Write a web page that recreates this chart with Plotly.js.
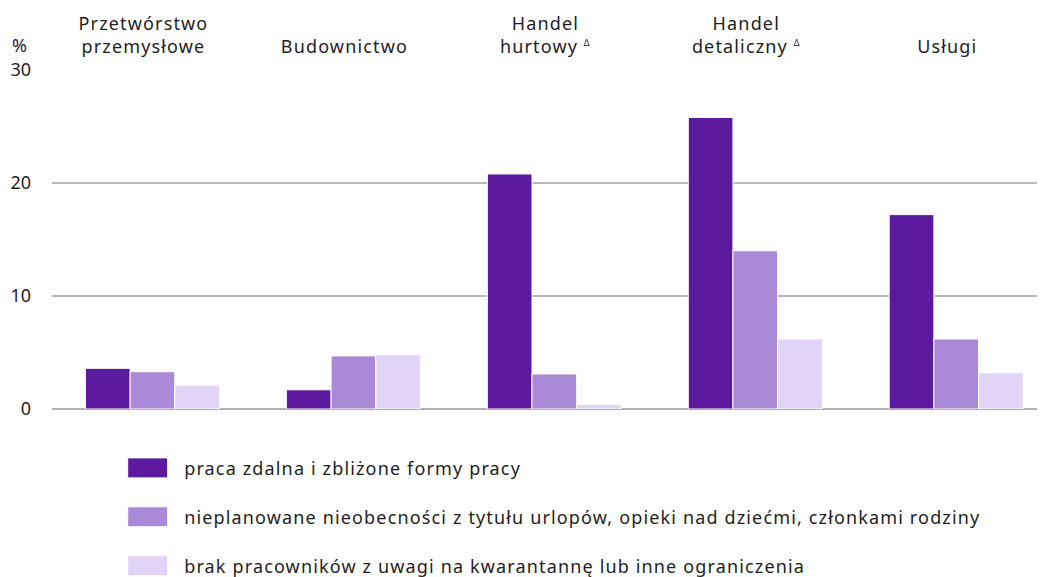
<!DOCTYPE html>
<html>
<head>
<meta charset="utf-8">
<script src="https://cdn.plot.ly/plotly-3.0.1.min.js"></script>
<style>
  html, body { margin: 0; padding: 0; background: #ffffff; }
  #chart { width: 1041px; height: 577px; }
  .xtick text, .legendtext { letter-spacing: 1.15px; }
</style>
</head>
<body>
<div id="chart"></div>
<script>
const categories = [
  'Przetwórstwo<br>przemysłowe',
  'Budownictwo',
  'Handel<br>hurtowy <sup><span style="font-size:9px">Δ</span></sup>',
  'Handel<br>detaliczny <sup><span style="font-size:9px">Δ</span></sup>',
  'Usługi'
];
const seriesNames = [
  'praca zdalna i zbliżone formy pracy',
  'nieplanowane nieobecności z tytułu urlopów, opieki nad dziećmi, członkami rodziny',
  'brak pracowników z uwagi na kwarantannę lub inne ograniczenia'
];
const remoteWork = [3.6, 1.7, 20.8, 25.8, 17.2];
const absences   = [3.3, 4.7, 3.1, 14.0, 6.2];
const quarantine = [2.1, 4.8, 0.4, 6.2, 3.2];
const yTicks = [0, 10, 20, 30];
const colors = ['#5c1a9f', '#aa8ad8', '#e2d4f6'];

const FONT = 'Noto Sans, Open Sans, sans-serif';
const TEXT = '#1e1e1e';

const series = [remoteWork, absences, quarantine];
const traces = series.map((vals, i) => ({
  type: 'bar',
  name: seriesNames[i],
  x: categories,
  y: vals,
  marker: { color: colors[i], line: { color: '#ffffff', width: 1 } },
  legendgroup: 'g' + i,
  hoverinfo: 'x+y'
}));

const layout = {
  width: 1041,
  height: 577,
  margin: { l: 52, r: 4, t: 70, b: 168, pad: 0, autoexpand: false },
  paper_bgcolor: '#ffffff',
  plot_bgcolor: '#ffffff',
  font: { family: FONT, size: 18, color: TEXT },
  barmode: 'group',
  bargap: 0.333,
  bargroupgap: 0,
  showlegend: true,
  legend: {
    orientation: 'v',
    x: 0.0682, xanchor: 'left',
    y: -0.12, yanchor: 'top',
    font: { family: FONT, size: 18, color: TEXT },
    traceorder: 'grouped',
    tracegroupgap: 22.5,
    itemwidth: 55,
    bgcolor: 'rgba(0,0,0,0)'
  },
  xaxis: {
    type: 'category',
    side: 'top',
    range: [-0.5, 4.402],
    showgrid: false,
    showline: false,
    zeroline: false,
    ticks: '',
    ticklabelstandoff: 12,
    ticklabelshift: -9,
    tickfont: { family: FONT, size: 18, color: TEXT },
    fixedrange: true
  },
  yaxis: {
    range: [0, 30],
    tickvals: yTicks,
    ticktext: yTicks.map(String),
    showgrid: true,
    gridcolor: '#b9b9b9',
    gridwidth: 1.2,
    zeroline: true,
    zerolinecolor: '#b0b0b0',
    zerolinewidth: 1.5,
    showline: false,
    ticks: '',
    ticklabelstandoff: 20,
    tickfont: { family: FONT, size: 18, color: TEXT },
    fixedrange: true
  },
  annotations: [{
    text: '%',
    xref: 'paper', yref: 'paper',
    x: 0, y: 1,
    xanchor: 'center', yanchor: 'middle',
    xshift: -33, yshift: 25,
    showarrow: false,
    font: { family: FONT, size: 18, color: TEXT }
  }]
};

Plotly.newPlot('chart', traces, layout, { displayModeBar: false, staticPlot: true }).then(gd => {
  gd.querySelectorAll('.legend .legendpoints path').forEach(p => {
    p.setAttribute('d', 'M-24,-10H16V10H-24Z');
  });
});
</script>
</body>
</html>
